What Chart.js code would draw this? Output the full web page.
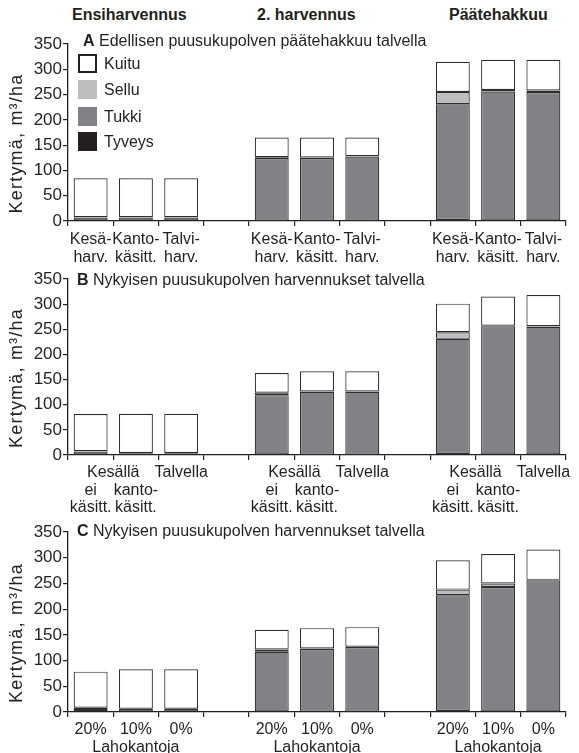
<!DOCTYPE html>
<html>
<head>
<meta charset="utf-8">
<script src="https://cdn.jsdelivr.net/npm/chart.js@4"></script>
<style>
  body { margin: 0; background: #fff; width: 579px; height: 753px; position: relative; overflow: hidden;
         font-family: "Liberation Sans", Arial, sans-serif; color: #231f20; }
  canvas { position: absolute; left: 0; }
  .hd { position: absolute; font-weight: bold; font-size: 16px; line-height: 18px; top: 6px; }
  .pt { position: absolute; font-size: 16px; line-height: 18px; white-space: nowrap; }
  .lg { position: absolute; left: 78px; font-size: 16px; line-height: 19px; }
  .lg span { display: inline-block; width: 19px; height: 19px; vertical-align: top; margin-right: 7px; box-sizing: border-box; }
</style>
</head>
<body>
<div class="hd" style="left:72px">Ensiharvennus</div>
<div class="hd" style="left:257px">2. harvennus</div>
<div class="hd" style="left:449px">Päätehakkuu</div>

<canvas id="chartA" width="579" height="271" style="top:0"></canvas>
<canvas id="chartB" width="579" height="265" style="top:250px"></canvas>
<canvas id="chartC" width="579" height="253" style="top:500px"></canvas>

<div class="pt" style="left:83px;top:32px"><b>A</b> Edellisen puusukupolven päätehakkuu talvella</div>
<div class="pt" style="left:77px;top:271px"><b>B</b> Nykyisen puusukupolven harvennukset talvella</div>
<div class="pt" style="left:77px;top:522px"><b>C</b> Nykyisen puusukupolven harvennukset talvella</div>

<div class="lg" style="top:54px"><span style="background:#fff;border:2px solid #231f20"></span>Kuitu</div>
<div class="lg" style="top:80px"><span style="background:#bcbec0"></span>Sellu</div>
<div class="lg" style="top:107px"><span style="background:#808285"></span>Tukki</div>
<div class="lg" style="top:132px"><span style="background:#231f20"></span>Tyveys</div>

<script>
// categories (gaps between the three felling groups are empty categories)
const labelsA = [["Kesä-", "harv."], ["Kanto-", "käsitt."], ["Talvi-", "harv."], "",
                 ["Kesä-", "harv."], ["Kanto-", "käsitt."], ["Talvi-", "harv."], "",
                 ["Kesä-", "harv."], ["Kanto-", "käsitt."], ["Talvi-", "harv."]];
const labelsB = [["", "ei", "käsitt."], ["", "kanto-", "käsitt."], ["Talvella"], "",
                 ["", "ei", "käsitt."], ["", "kanto-", "käsitt."], ["Talvella"], "",
                 ["", "ei", "käsitt."], ["", "kanto-", "käsitt."], ["Talvella"]];
const labelsC = [["20%"], ["10%", "Lahokantoja"], ["0%"], "",
                 ["20%"], ["10%", "Lahokantoja"], ["0%"], "",
                 ["20%"], ["10%", "Lahokantoja"], ["0%"]];
const sharedB = "Kesällä";

// m³/ha per assortment
const tyveysA = [1, 1, 1, null, 0.5, 0.5, 0.5, null, 2, 1, 1];
const tukkiA  = [6, 6, 6, null, 124, 124, 127, null, 229, 255, 254];
const selluA  = [0.5, 0.5, 0.5, null, 1.5, 1, 0.5, null, 24, 3, 3];
const kuituA  = [77, 77, 77, null, 39, 39.5, 37, null, 60, 60, 61];

const tyveysB = [1, 0.5, 0.5, null, 1, 0.5, 0.5, null, 2, 1, 1];
const tukkiB  = [6, 3, 3, null, 118, 125, 125, null, 229, 255, 254];
const selluB  = [0.5, 0.5, 0.5, null, 5, 1, 1, null, 13, 1, 1];
const kuituB  = [74, 78, 78, null, 39, 40, 40, null, 57, 58, 62];

const tyveysC = [4, 1, 1, null, 1, 0.5, 0.5, null, 2, 1, 1];
const tukkiC  = [4, 5, 5, null, 116, 122, 126, null, 225, 242, 255];
const selluC  = [0.5, 0.5, 0.5, null, 4.5, 1, 0.5, null, 11, 7, 1];
const kuituC  = [70, 76.5, 76.5, null, 38.5, 39.5, 38, null, 57, 57, 59];

const yTicks = [0, 50, 100, 150, 200, 250, 300, 350];
const yTitle = "Kertymä, m³/ha";

const ink = "#231f20";
const font = '"Liberation Sans", Arial, sans-serif';

const extraText = {
  id: "extraText",
  afterDraw(chart, args, opts) {
    const ctx = chart.ctx;
    const a = chart.chartArea;
    ctx.save();
    ctx.fillStyle = ink;
    ctx.textAlign = "center";
    ctx.textBaseline = "middle";
    ctx.save();
    ctx.font = "18px " + font;
    ctx.translate(17, (a.top + a.bottom) / 2 + 11);
    ctx.rotate(-Math.PI / 2);
    ctx.letterSpacing = "1.2px";
    ctx.fillText(yTitle, 0, 0);
    ctx.restore();
    if (opts.shared) {
      ctx.font = "16px " + font;
      const x = chart.scales.x;
      [0, 4, 8].forEach((i) => {
        const px = (x.getPixelForValue(i) + x.getPixelForValue(i + 1)) / 2;
        ctx.fillText(opts.shared, px, a.bottom + 5 + opts.pad + 8.8);
      });
    }
    ctx.restore();
  },
};

function makeChart(id, labels, tyveys, tukki, sellu, kuitu, top, xh, pad, shared) {
  const common = { barPercentage: 0.75, categoryPercentage: 1, borderColor: "#2e2e2e",
                   borderWidth: 1.2, borderSkipped: false };
  new Chart(document.getElementById(id), {
    type: "bar",
    data: {
      labels: labels,
      datasets: [
        { label: "Tyveys", data: tyveys, backgroundColor: ink, ...common },
        { label: "Tukki", data: tukki, backgroundColor: "#808285", ...common },
        { label: "Sellu", data: sellu, backgroundColor: "#bcbec0", ...common },
        { label: "Kuitu", data: kuitu, backgroundColor: "#ffffff", ...common },
      ],
    },
    options: {
      responsive: false,
      animation: false,
      layout: { padding: { top: top, right: 13, bottom: 0, left: 0 } },
      plugins: { legend: { display: false }, tooltip: { enabled: false }, extraText: { shared: shared, pad: pad } },
      scales: {
        x: {
          stacked: true,
          afterFit: (s) => { s.height = xh; },
          grid: { offset: true, drawOnChartArea: false, tickLength: 5, color: ink, lineWidth: 1.2 },
          border: { color: ink, width: 1.3 },
          ticks: { color: ink, padding: pad, maxRotation: 0, autoSkip: false,
                   font: { family: font, size: 16, lineHeight: 1.1 } },
        },
        y: {
          stacked: true,
          min: 0,
          max: 350,
          afterFit: (s) => { s.width = 68; },
          afterBuildTicks: (s) => { s.ticks = yTicks.map((v) => ({ value: v })); },
          grid: { drawOnChartArea: false, tickLength: 5, color: ink, lineWidth: 1.2 },
          border: { color: ink, width: 1.3 },
          ticks: { color: ink, padding: 1, font: { family: font, size: 17 } },
        },
      },
    },
    plugins: [extraText],
  });
}

makeChart("chartA", labelsA, tyveysA, tukkiA, selluA, kuituA, 44, 50, 5, null);
makeChart("chartB", labelsB, tyveysB, tukkiB, selluB, kuituB, 29, 60, 4, sharedB);
makeChart("chartC", labelsC, tyveysC, tukkiC, selluC, kuituC, 32, 41, 4, null);
</script>
</body>
</html>
